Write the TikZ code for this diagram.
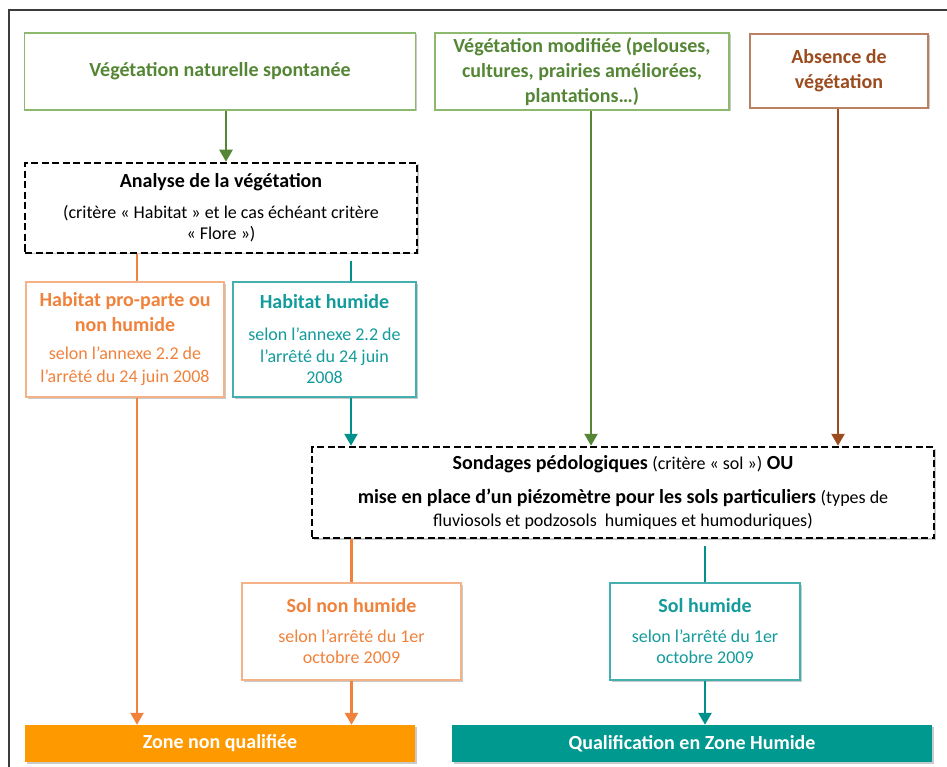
\documentclass[tikz,border=0pt]{standalone}
\usepackage{fontspec}
\setmainfont{Carlito}
\usepackage{tikz}
\usetikzlibrary{arrows.meta, positioning, shadows}
\definecolor{vgreen}{RGB}{84,134,53}
\definecolor{vgreenlt}{RGB}{140,185,110}
\definecolor{horange}{RGB}{240,130,60}
\definecolor{horangelt}{RGB}{246,178,135}
\definecolor{hteal}{RGB}{20,155,155}
\definecolor{htealdk}{RGB}{0,145,140}
\definecolor{zorange}{RGB}{255,153,0}
\definecolor{zteal}{RGB}{0,153,143}
\definecolor{sbrown}{RGB}{155,75,30}
\definecolor{framegray}{RGB}{60,60,60}
\newcommand{\hd}{\fontsize{20}{25}\selectfont\bfseries}
\newcommand{\sm}{\fontsize{18}{21.5}\selectfont\mdseries}
\tikzset{
  box/.style={rectangle, fill=white, line width=1.5pt, align=center,
              inner sep=2pt,
              drop shadow={shadow xshift=1.5pt, shadow yshift=-1.5pt,
                           opacity=0.35, fill=black!60}},
  greenbox/.style={box, draw=vgreenlt, text=vgreen, font=\hd},
  brownbox/.style={box, draw=sbrown!70, text=sbrown, font=\hd},
  orbox/.style={box, draw=horangelt, text=horange, font=\hd},
  tealbox/.style={box, draw=hteal!80, text=hteal, font=\hd},
  dashbox/.style={box, draw=black, line width=2.5pt,
                  dash pattern=on 7pt off 3.5pt, font=\hd},
  zonebar/.style={rectangle, draw=none, text=white, font=\hd,
                  minimum height=37pt,
                  drop shadow={shadow xshift=1.5pt, shadow yshift=-1.5pt,
                               opacity=0.35, fill=black!60}},
  link/.style={line width=2.5pt},
  arr/.style={link, -{Triangle[length=12pt,width=13pt]}},
}
\begin{document}
\begin{tikzpicture}[x=1pt, y=-1pt]
  \useasboundingbox (0,0) rectangle (947,767);
  % frame
  \draw[framegray, line width=1.5pt] (9,767) -- (9,10) -- (947,10);

  % top row
  \node[greenbox, minimum width=391pt, minimum height=77pt] (vnat) at (220,71.5)
    {Végétation naturelle spontanée};
  \node[greenbox, minimum width=294pt, minimum height=77pt] (vmod) at (582,71.5)
    {Végétation modifiée (pelouses,\\ cultures, prairies améliorées,\\ plantations…)};
  \node[brownbox, minimum width=178pt, minimum height=74pt] (absence) at (839,71)
    {Absence de\\ végétation};

  % analyse
  \node[dashbox, minimum width=392pt, minimum height=90pt] (analyse) at (221,208)
    {Analyse de la végétation\\[6pt]
     \sm (critère «~Habitat~» et le cas échéant critère\\[-4pt]
     \sm «~Flore~»)};

  \node[orbox, minimum width=198pt, minimum height=115pt] (pro) at (125,339.5)
    {Habitat pro-parte ou\\ non humide\\[3pt]
     \sm selon l’annexe 2.2 de\\[-2pt] \sm l’arrêté du 24 juin 2008};
  \node[tealbox, minimum width=183pt, minimum height=115pt] (hum) at (324.5,339.5)
    {Habitat humide\\[7pt]
     \sm selon l’annexe 2.2 de\\[-3pt] \sm l’arrêté du 24 juin\\[-4pt] \sm 2008};

  % sondages
  \node[dashbox, minimum width=622pt, minimum height=91pt] (sond) at (623,492.5)
    {Sondages pédologiques {\sm (critère «~sol~»)} OU\\[9pt]
     mise en place d’un piézomètre pour les sols particuliers {\sm (types de}\\[-2pt]
     \sm fluviosols et podzosols~ humiques et humoduriques)};

  \node[orbox, minimum width=219pt, minimum height=97pt] (solnon) at (351.5,631.5)
    {Sol non humide\\[5pt]
     \sm selon l’arrêté du 1er\\[-4pt] \sm octobre 2009};
  \node[tealbox, minimum width=190pt, minimum height=97pt] (solhum) at (705,631.5)
    {Sol humide\\[5pt]
     \sm selon l’arrêté du 1er\\[-4pt] \sm octobre 2009};

  % results
  \node[zonebar, fill=zorange, minimum width=390pt] (znq) at (220,743.5)
    {Zone non qualifiée};
  \node[zonebar, fill=zteal, minimum width=480pt] (qzh) at (692,743.5)
    {Qualification en Zone Humide};

  % connectors
  \draw[arr, vgreen] ([xshift=6pt]vnat.south) -- ([xshift=6pt]vnat.south |- analyse.north);
  \draw[link, horange] ([xshift=12pt]pro.north) -- ([xshift=12pt]pro.north |- analyse.south);
  \draw[link, htealdk] ([xshift=26.5pt]hum.north) -- ([xshift=26.5pt,yshift=-7pt]hum.north |- analyse.south);
  \draw[arr, horange] ([xshift=12pt]pro.south) -- ([xshift=12pt]pro.south |- znq.north);
  \draw[arr, htealdk] ([xshift=26.5pt]hum.south) -- ([xshift=26.5pt]hum.south |- sond.north);
  \draw[arr, vgreen] ([xshift=9pt]vmod.south) -- ([xshift=9pt]vmod.south |- sond.north);
  \draw[arr, sbrown] ([xshift=-1pt]absence.south) -- ([xshift=-1pt]absence.south |- sond.north);
  \draw[link, horange] (solnon.north) -- (solnon.north |- sond.south);
  \draw[link, htealdk] (solhum.north) -- ([yshift=-7pt]solhum.north |- sond.south);
  \draw[arr, horange] (solnon.south) -- (solnon.south |- znq.north);
  \draw[arr, htealdk] (solhum.south) -- (solhum.south |- qzh.north);
\end{tikzpicture}
\end{document}
